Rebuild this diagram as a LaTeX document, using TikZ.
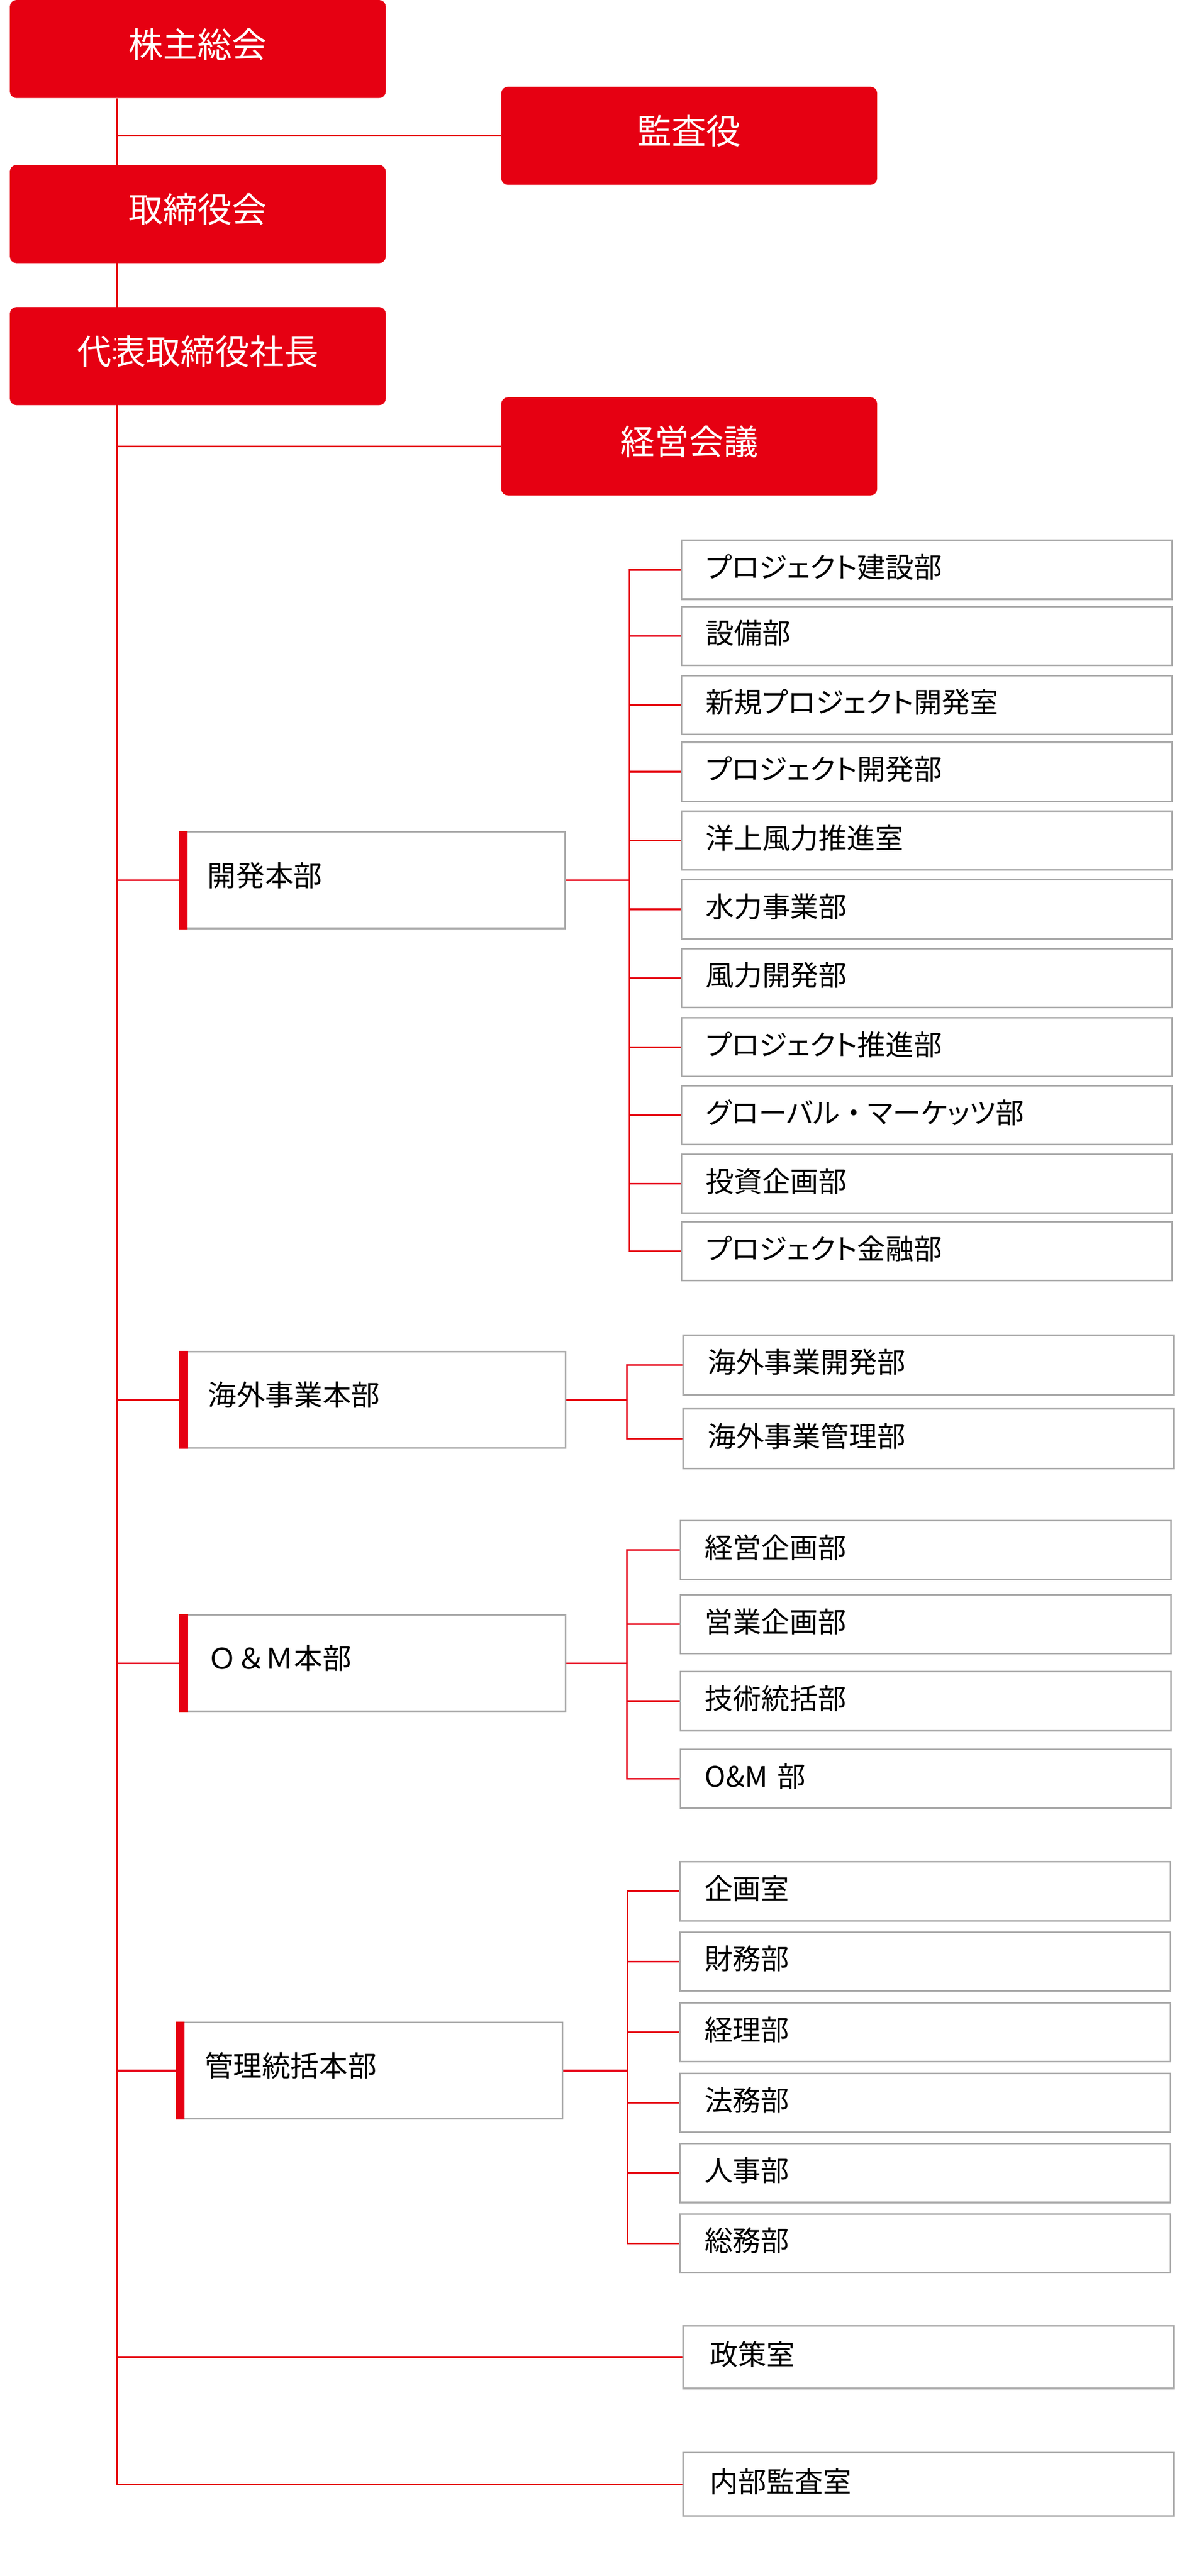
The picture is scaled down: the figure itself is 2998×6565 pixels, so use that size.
\documentclass[tikz,border=0pt]{standalone}
\usepackage{fontspec}
\newfontfamily\jp{Noto Sans CJK JP}
\newfontfamily\jpp[RawFeature={+palt}]{Noto Sans CJK JP}
\definecolor{cred}{HTML}{E60012}
\definecolor{cgray}{HTML}{AAAAAA}
\begin{document}
\begin{tikzpicture}[x=1pt,y=-1pt,
 topbox/.style={fill=cred, rounded corners=17pt, minimum width=958pt, minimum height=250pt, inner sep=0pt, text=white, font=\jp\fontsize{88}{100}\selectfont, text height=60pt, text depth=18pt},
 midbox/.style={draw=cgray, line width=4pt, fill=white, minimum height=246pt, inner xsep=70pt, inner ysep=0pt, text width=841pt, align=left, font=\jp\fontsize{73}{85}\selectfont, text height=50pt, text depth=19pt},
 subbox/.style={draw=cgray, line width=4pt, fill=white, minimum height=150pt, inner xsep=62pt, inner ysep=0pt, text width=1126pt, align=left, font=\jpp\fontsize{72}{85}\selectfont, text height=55pt, text depth=14pt},
 link/.style={draw=cred, line width=4.3pt},
 redbar/.style={fill=cred}
]
\useasboundingbox (0,0) rectangle (2998,6565);
% top boxes
\node[topbox] (kabu) at (504,125) {株主総会};
\node[topbox] (kansa) at (1756,346) {監査役};
\node[topbox] (tori) at (504,545.5) {取締役会};
\node[topbox] (daihyo) at (504,907.5) {代表取締役社長};
\node[topbox] (keiei) at (1756,1137.5) {経営会議};
% coordinates of vertical lines
\coordinate (tx) at (298,0);
\coordinate (bd) at (1604,0);
\coordinate (bo) at (1597,0);
\coordinate (bm) at (1597,0);
\coordinate (ba) at (1599,0);
% headquarters
\node[midbox] (dev) at (949.5,2243) {開発本部};
\node[midbox] (ovs) at (950.5,3567.5) {海外事業本部};
\node[midbox] (om) at (950.5,4238.5) {Ｏ＆Ｍ本部};
\node[midbox] (adm) at (942,5277) {管理統括本部};
\foreach \n in {dev,ovs,om,adm}{
  \fill[redbar] ([xshift=-2pt]\n.north west) rectangle ([xshift=21pt]\n.south west);
}
% development subs
\node[subbox] (d1) at (2361,1452) {プロジェクト建設部};
\node[subbox] (d2) at (2361,1620.5) {設備部};
\node[subbox] (d3) at (2361,1796.5) {新規プロジェクト開発室};
\node[subbox] (d4) at (2361,1967) {プロジェクト開発部};
\node[subbox] (d5) at (2361,2142.5) {洋上風力推進室};
\node[subbox] (d6) at (2361,2317.5) {水力事業部};
\node[subbox] (d7) at (2361,2492.5) {風力開発部};
\node[subbox] (d8) at (2361,2668.5) {プロジェクト推進部};
\node[subbox] (d9) at (2361,2842) {グローバル{\jp ・}マーケッツ部};
\node[subbox] (d10) at (2361,3016.5) {投資企画部};
\node[subbox] (d11) at (2361,3188.5) {プロジェクト金融部};
% overseas subs
\node[subbox, minimum height=152pt] (o1) at (2366,3478.5) {海外事業開発部};
\node[subbox, minimum height=152pt] (o2) at (2366,3666.5) {海外事業管理部};
% O&M subs
\node[subbox] (m1) at (2359,3950.5) {経営企画部};
\node[subbox] (m2) at (2359,4139.5) {営業企画部};
\node[subbox] (m3) at (2359,4335.5) {技術統括部};
\node[subbox] (m4) at (2359,4533.5) {O\&M 部};
% admin subs
\node[subbox] (a1) at (2358,4820) {企画室};
\node[subbox] (a2) at (2358,4999) {財務部};
\node[subbox] (a3) at (2358,5179.5) {経理部};
\node[subbox] (a4) at (2358,5359) {法務部};
\node[subbox] (a5) at (2358,5538) {人事部};
\node[subbox] (a6) at (2358,5717) {総務部};
% solo boxes
\node[subbox, minimum height=160pt, inner xsep=68pt, text width=1114pt] (seisaku) at (2366,6007) {政策室};
\node[subbox, minimum height=161pt, inner xsep=68pt, text width=1114pt] (naibu) at (2366,6331.5) {内部監査室};
% trunk
\path[link] (kabu.south -| tx) -- (naibu.west -| tx) -- (naibu.west);
\foreach \n in {kansa,keiei,dev,ovs,om,adm,seisaku}{
  \path[link] (\n.west -| tx) -- (\n.west);
}
% development bracket
\path[link] (dev.east) -- (dev.east -| bd);
\path[link] (d1.west) -- (d1.west -| bd) -- (d11.west -| bd) -- (d11.west);
\foreach \n in {d2,d3,d4,d5,d6,d7,d8,d9,d10}{
  \path[link] (\n.west -| bd) -- (\n.west);
}
% overseas bracket
\path[link] (ovs.east) -- (ovs.east -| bo);
\path[link] (o1.west) -- (o1.west -| bo) -- (o2.west -| bo) -- (o2.west);
% O&M bracket
\path[link] (om.east) -- (om.east -| bm);
\path[link] (m1.west) -- (m1.west -| bm) -- (m4.west -| bm) -- (m4.west);
\foreach \n in {m2,m3}{
  \path[link] (\n.west -| bm) -- (\n.west);
}
% admin bracket
\path[link] (adm.east) -- (adm.east -| ba);
\path[link] (a1.west) -- (a1.west -| ba) -- (a6.west -| ba) -- (a6.west);
\foreach \n in {a2,a3,a4,a5}{
  \path[link] (\n.west -| ba) -- (\n.west);
}
\end{tikzpicture}
\end{document}
